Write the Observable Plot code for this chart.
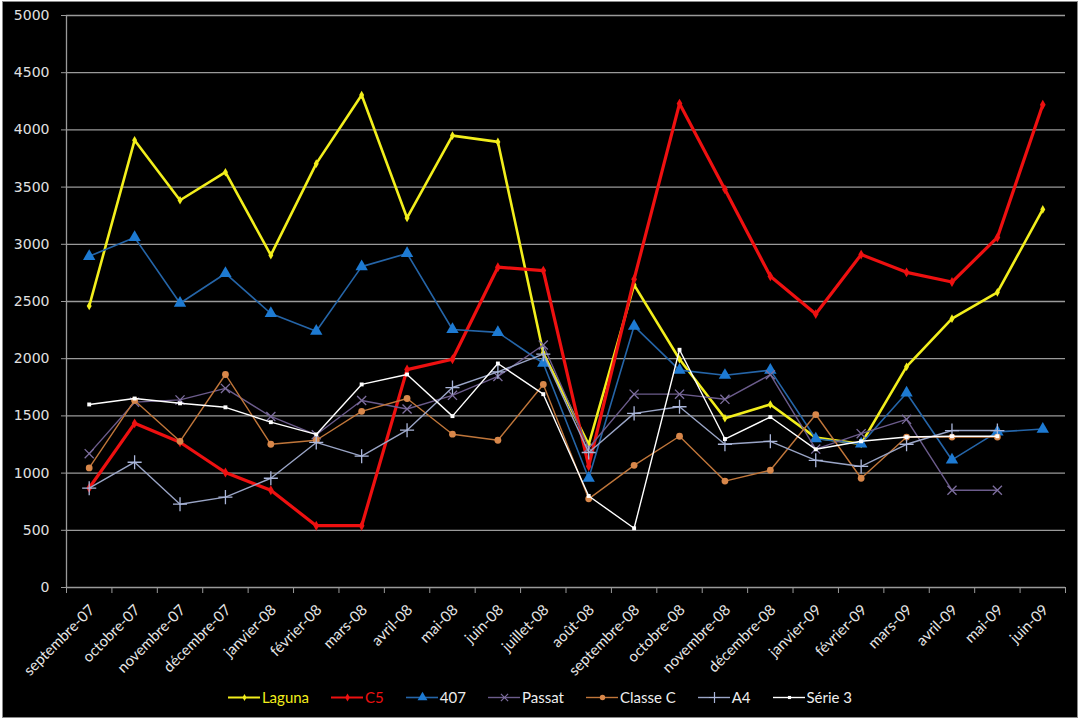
<!DOCTYPE html>
<html>
<head>
<meta charset="utf-8">
<script src="https://cdn.jsdelivr.net/npm/d3@7"></script>
<script src="https://cdn.jsdelivr.net/npm/@observablehq/plot@0.6"></script>
<style>
  html, body { margin: 0; padding: 0; background: #fff; }
  #frame { position: absolute; left: 2px; top: 1px; width: 1074px; height: 715px; background: #000; border: 1px solid #8a8a8a; overflow: hidden; }
  #chart { position: absolute; left: 0; top: 0; width: 1075px; height: 680px; }
  #legend { position: absolute; left: 0; right: 0; top: 686px; display: flex; justify-content: center; gap: 22px; font-family: Lato, "Open Sans", sans-serif; font-size: 15px; color: #eee; }
  #legend .item { display: flex; align-items: center; gap: 2px; }
</style>
</head>
<body>
<div id="frame">
  <div id="chart"></div>
  <div id="legend"></div>
</div>
<script>
const months = ["septembre-07","octobre-07","novembre-07","décembre-07","janvier-08","février-08","mars-08","avril-08","mai-08","juin-08","juillet-08","août-08","septembre-08","octobre-08","novembre-08","décembre-08","janvier-09","février-09","mars-09","avril-09","mai-09","juin-09"];
const yTicks = [0,500,1000,1500,2000,2500,3000,3500,4000,4500,5000];

const laguna  = [2460,3910,3385,3630,2905,3705,4305,3230,3950,3895,2050,1250,2645,1995,1480,1600,1310,1255,1930,2350,2580,3305];
const c5      = [870,1435,1270,1005,850,540,540,1905,1995,2800,2770,1060,2695,4230,3480,2720,2390,2910,2755,2670,3060,4220];
const p407    = [2895,3060,2485,2745,2395,2240,2805,2920,2255,2230,1960,955,2285,1900,1855,1900,1300,1255,1700,1115,1360,1385];
const passat  = [1170,1620,1640,1740,1495,1335,1635,1560,1680,1845,2120,1220,1690,1690,1645,1860,1210,1345,1470,850,850,null];
const classeC = [1045,1635,1278,1862,1252,1287,1540,1652,1340,1287,1775,775,1068,1322,930,1025,1512,955,1315,1315,1315,null];
const a4      = [868,1095,728,790,955,1268,1148,1375,1748,1885,2040,1180,1522,1580,1252,1278,1112,1058,1252,1372,1372,null];
const serie3  = [1600,1652,1610,1575,1445,1338,1775,1862,1498,1958,1690,800,518,2078,1298,1490,1208,1278,1315,1322,1322,null];

const seriesNames = ["Laguna","C5","407","Passat","Classe C","A4","Série 3"];
const seriesValues = [laguna, c5, p407, passat, classeC, a4, serie3];

const styles = {
  "Laguna":   {line: "#f2ee1c", width: 2.6, symbol: "diamond", r: 2.6, fill: "#f2ee1c", stroke: "none", text: "#f2ee1c"},
  "C5":       {line: "#ee1010", width: 3.2, symbol: "diamond", r: 3, fill: "#ee1010", stroke: "none", text: "#ee1010"},
  "407":      {line: "#2565a8", width: 1.6, symbol: "triangle", r: 4.6, fill: "#1d7ad2", stroke: "none", text: "#eee"},
  "Passat":   {line: "#6c5c8c", width: 1.4, symbol: "times", r: 4.2, fill: "none", stroke: "#7d6e9e", text: "#eee"},
  "Classe C": {line: "#c0763a", width: 1.4, symbol: "circle", r: 3.4, fill: "#d8874a", stroke: "none", text: "#eee"},
  "A4":       {line: "#9aa5c6", width: 1.4, symbol: "plus", r: 4.6, fill: "none", stroke: "#aab6da", text: "#eee"},
  "Série 3":  {line: "#ffffff", width: 1.4, symbol: "square", r: 2.2, fill: "#ffffff", stroke: "none", text: "#eee"}
};

const table = [];
seriesNames.forEach((s, k) => {
  seriesValues[k].forEach((v, i) => table.push({series: s, i, month: months[i], value: v}));
});

const n = months.length;
const marks = [
  Plot.ruleY(yTicks.filter(d => d > 0), {stroke: "#9a9a9a", strokeWidth: 1.3}),
  Plot.ruleY([0], {stroke: "#9a9a9a", strokeWidth: 1.3}),
  Plot.ruleX([-0.5], {stroke: "#9a9a9a", strokeWidth: 1.3}),
  Plot.axisY({ticks: yTicks, tickFormat: () => "", tickSize: 5, stroke: "#9a9a9a", label: null}),
  Plot.text(yTicks, {x: -0.5, y: d => d, text: d => String(d), dx: -17, textAnchor: "end", fill: "#e0e0e0", fontSize: 14, fontFamily: "DejaVu Sans"}),
  Plot.axisX({ticks: d3.range(n + 1).map(i => i - 0.5), tickFormat: () => "", tickSize: 6, stroke: "#9a9a9a", label: null}),
  Plot.text(months, {x: (d, i) => i, y: 0, text: d => d, rotate: -45, textAnchor: "end", dx: 3, dy: 20, fill: "#e6e6e6", fontSize: 15, fontFamily: "Lato, Open Sans, sans-serif"})
];
seriesNames.forEach(s => {
  const st = styles[s];
  const data = table.filter(d => d.series === s && d.value != null);
  marks.push(Plot.line(data, {x: "i", y: "value", stroke: st.line, strokeWidth: st.width}));
  marks.push(Plot.dot(data, {x: "i", y: "value", symbol: st.symbol, r: st.r, fill: st.fill, stroke: st.stroke, strokeWidth: 1.3}));
});

const chart = Plot.plot({
  width: 1075,
  height: 680,
  marginLeft: 63,
  marginRight: 13,
  marginTop: 13,
  marginBottom: 95,
  style: {background: "black", color: "#e0e0e0", overflow: "visible"},
  x: {type: "linear", domain: [-0.5, n - 0.5], axis: null},
  y: {domain: [0, 5000], axis: null},
  marks
});
document.getElementById("chart").appendChild(chart);

d3.select(chart).selectAll("text").each(function() {
  if (/^\d+$/.test(this.textContent)) {
    this.style.setProperty("font-size", "14px", "important");
    this.style.setProperty("font-family", "'DejaVu Sans', Verdana, sans-serif", "important");
  }
});

// legend
const legend = document.getElementById("legend");
seriesNames.forEach(s => {
  const st = styles[s];
  const item = document.createElement("div");
  item.className = "item";
  const sym = Plot.plot({
    width: 32, height: 16, margin: 0,
    style: {background: "transparent", overflow: "visible"},
    x: {domain: [0, 1], axis: null}, y: {domain: [0, 1], axis: null},
    marks: [
      Plot.ruleY([0.5], {x1: 0, x2: 1, stroke: st.line, strokeWidth: Math.min(st.width, 2)}),
      Plot.dot([0.5], {x: d => d, y: 0.5, symbol: st.symbol, r: st.r * 0.8, fill: st.fill, stroke: st.stroke, strokeWidth: 1.2})
    ]
  });
  item.appendChild(sym);
  const label = document.createElement("span");
  label.textContent = s;
  label.style.color = st.text;
  item.appendChild(label);
  legend.appendChild(item);
});
</script>
</body>
</html>
